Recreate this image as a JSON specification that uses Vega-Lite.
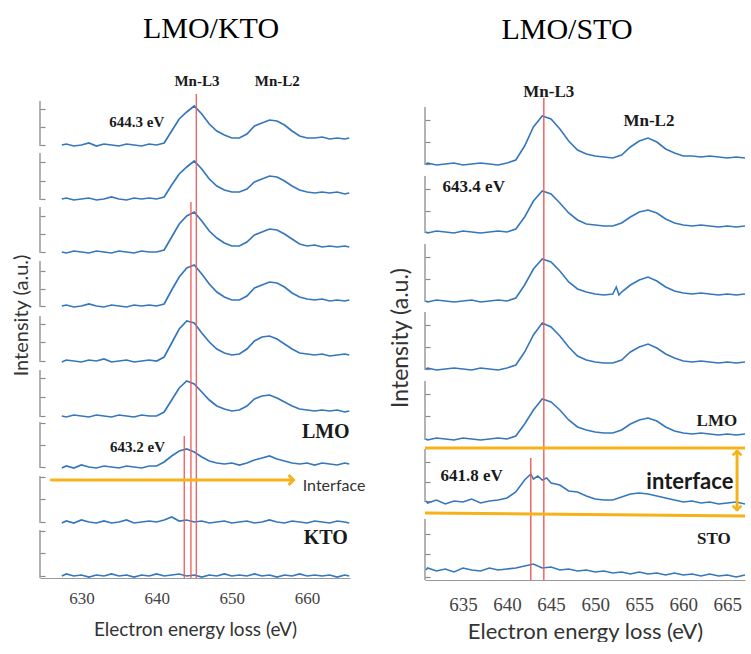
{
"$schema":"https://vega.github.io/schema/vega-lite/v6.json",
"background":"white",
"padding":{"left":11,"top":14,"right":0,"bottom":0},
"autosize":{"type":"pad"},
"spacing":75,
"bounds":"flush",
"config":{"view":{"stroke":null},"axis":{"grid":false}},
"hconcat":[
{
"width":310,"height":483,
"title":{"text":"LMO/KTO","font":"Liberation Serif","fontSize":30,"fontWeight":"normal","color":"#000","anchor":"middle","frame":"group","baseline":"alphabetic","offset":6,"dx":16},
"encoding":{
"x":{"field":"x","type":"quantitative","scale":{"domain":[624.5,665.7],"nice":false,"zero":false},"axis":{"title":"Electron energy loss (eV)","values":[630,640,650,660],"format":"d","ticks":false,"grid":false,"domainColor":"#9a9a9a","domainWidth":1.2,"labelFont":"Liberation Serif","labelFontSize":17,"labelColor":"#444","labelPadding":12,"titleFont":"Lato","titleFontSize":19,"titleFontWeight":"normal","titleColor":"#333","titlePadding":14}},
"y":{"field":"y","type":"quantitative","scale":{"domain":[0,483],"nice":false,"zero":false},"axis":{"title":"Intensity (a.u.)","values":[469,451,433,416,397,379,362,344,326,307,289,272,254,236,217,200,181,162,155,133,111,101,79,56,47,25,2],"labels":false,"domain":false,"tickSize":-5,"tickColor":"#8a8a8a","tickWidth":1.2,"grid":false,"titleFont":"Lato","titleFontSize":20,"titleFontWeight":"normal","titleColor":"#333","titlePadding":8,"titleY":220}}
},
"layer":[
{"data":{"values":[{"x":624.5,"y":477,"y2":432},{"x":624.5,"y":425,"y2":378},{"x":624.5,"y":371,"y2":325},{"x":624.5,"y":317,"y2":271},{"x":624.5,"y":262,"y2":216},{"x":624.5,"y":208,"y2":161},{"x":624.5,"y":156,"y2":110},{"x":624.5,"y":102,"y2":55},{"x":624.5,"y":48,"y2":0}]},
"mark":{"type":"rule","color":"#8a8a8a","strokeWidth":1.3},
"encoding":{"y2":{"field":"y2"}}},
{"data":{"values":[
{"s":"a","x":627.4,"y":433},{"s":"a","x":628,"y":434},{"s":"a","x":629,"y":432},{"s":"a","x":630,"y":433},{"s":"a","x":631,"y":435},{"s":"a","x":632,"y":432},{"s":"a","x":633,"y":434},{"s":"a","x":634,"y":433},{"s":"a","x":635,"y":432},{"s":"a","x":636,"y":434},{"s":"a","x":637,"y":433},{"s":"a","x":638,"y":432},{"s":"a","x":639,"y":434},{"s":"a","x":640,"y":433},{"s":"a","x":641,"y":435},{"s":"a","x":642,"y":447},{"s":"a","x":643,"y":459},{"s":"a","x":644,"y":466},{"s":"a","x":645,"y":472},{"s":"a","x":646,"y":464},{"s":"a","x":647,"y":454},{"s":"a","x":648,"y":447},{"s":"a","x":649,"y":443},{"s":"a","x":650,"y":440},{"s":"a","x":651,"y":440},{"s":"a","x":652,"y":444},{"s":"a","x":653,"y":452},{"s":"a","x":654,"y":455},{"s":"a","x":655,"y":458},{"s":"a","x":656,"y":457},{"s":"a","x":657,"y":453},{"s":"a","x":658,"y":447},{"s":"a","x":659,"y":442},{"s":"a","x":660,"y":440},{"s":"a","x":661,"y":440},{"s":"a","x":662,"y":441},{"s":"a","x":663,"y":439},{"s":"a","x":664,"y":440},{"s":"a","x":665,"y":439},{"s":"a","x":665.6,"y":440},
{"s":"b","x":627.4,"y":379},{"s":"b","x":628,"y":380},{"s":"b","x":629,"y":378},{"s":"b","x":630,"y":379},{"s":"b","x":631,"y":380},{"s":"b","x":632,"y":378},{"s":"b","x":633,"y":379},{"s":"b","x":634,"y":381},{"s":"b","x":635,"y":379},{"s":"b","x":636,"y":378},{"s":"b","x":637,"y":380},{"s":"b","x":638,"y":379},{"s":"b","x":639,"y":380},{"s":"b","x":640,"y":379},{"s":"b","x":641,"y":381},{"s":"b","x":642,"y":393},{"s":"b","x":643,"y":404},{"s":"b","x":644,"y":411},{"s":"b","x":645,"y":417},{"s":"b","x":646,"y":409},{"s":"b","x":647,"y":399},{"s":"b","x":648,"y":392},{"s":"b","x":649,"y":388},{"s":"b","x":650,"y":386},{"s":"b","x":651,"y":386},{"s":"b","x":652,"y":389},{"s":"b","x":653,"y":396},{"s":"b","x":654,"y":399},{"s":"b","x":655,"y":402},{"s":"b","x":656,"y":401},{"s":"b","x":657,"y":397},{"s":"b","x":658,"y":392},{"s":"b","x":659,"y":388},{"s":"b","x":660,"y":386},{"s":"b","x":661,"y":385},{"s":"b","x":662,"y":386},{"s":"b","x":663,"y":385},{"s":"b","x":664,"y":386},{"s":"b","x":665,"y":384},{"s":"b","x":665.6,"y":385},
{"s":"c","x":627.4,"y":326},{"s":"c","x":628,"y":325},{"s":"c","x":629,"y":327},{"s":"c","x":630,"y":326},{"s":"c","x":631,"y":325},{"s":"c","x":632,"y":327},{"s":"c","x":633,"y":326},{"s":"c","x":634,"y":325},{"s":"c","x":635,"y":327},{"s":"c","x":636,"y":326},{"s":"c","x":637,"y":325},{"s":"c","x":638,"y":327},{"s":"c","x":639,"y":326},{"s":"c","x":640,"y":326},{"s":"c","x":641,"y":328},{"s":"c","x":642,"y":341},{"s":"c","x":643,"y":354},{"s":"c","x":644,"y":362},{"s":"c","x":645,"y":366},{"s":"c","x":646,"y":357},{"s":"c","x":647,"y":347},{"s":"c","x":648,"y":340},{"s":"c","x":649,"y":335},{"s":"c","x":650,"y":332},{"s":"c","x":651,"y":332},{"s":"c","x":652,"y":336},{"s":"c","x":653,"y":343},{"s":"c","x":654,"y":346},{"s":"c","x":655,"y":349},{"s":"c","x":656,"y":348},{"s":"c","x":657,"y":344},{"s":"c","x":658,"y":339},{"s":"c","x":659,"y":334},{"s":"c","x":660,"y":332},{"s":"c","x":661,"y":333},{"s":"c","x":662,"y":331},{"s":"c","x":663,"y":332},{"s":"c","x":664,"y":331},{"s":"c","x":665,"y":332},{"s":"c","x":665.6,"y":331},
{"s":"d","x":627.4,"y":272},{"s":"d","x":628,"y":273},{"s":"d","x":629,"y":271},{"s":"d","x":630,"y":272},{"s":"d","x":631,"y":274},{"s":"d","x":632,"y":272},{"s":"d","x":633,"y":271},{"s":"d","x":634,"y":273},{"s":"d","x":635,"y":272},{"s":"d","x":636,"y":271},{"s":"d","x":637,"y":273},{"s":"d","x":638,"y":272},{"s":"d","x":639,"y":273},{"s":"d","x":640,"y":272},{"s":"d","x":641,"y":274},{"s":"d","x":642,"y":288},{"s":"d","x":643,"y":301},{"s":"d","x":644,"y":310},{"s":"d","x":645,"y":313},{"s":"d","x":646,"y":304},{"s":"d","x":647,"y":294},{"s":"d","x":648,"y":286},{"s":"d","x":649,"y":281},{"s":"d","x":650,"y":278},{"s":"d","x":651,"y":278},{"s":"d","x":652,"y":282},{"s":"d","x":653,"y":290},{"s":"d","x":654,"y":293},{"s":"d","x":655,"y":296},{"s":"d","x":656,"y":295},{"s":"d","x":657,"y":291},{"s":"d","x":658,"y":285},{"s":"d","x":659,"y":281},{"s":"d","x":660,"y":279},{"s":"d","x":661,"y":278},{"s":"d","x":662,"y":279},{"s":"d","x":663,"y":277},{"s":"d","x":664,"y":278},{"s":"d","x":665,"y":277},{"s":"d","x":665.6,"y":278},
{"s":"e","x":627.4,"y":216},{"s":"e","x":628,"y":218},{"s":"e","x":629,"y":217},{"s":"e","x":630,"y":216},{"s":"e","x":631,"y":218},{"s":"e","x":632,"y":217},{"s":"e","x":633,"y":219},{"s":"e","x":634,"y":216},{"s":"e","x":635,"y":217},{"s":"e","x":636,"y":218},{"s":"e","x":637,"y":216},{"s":"e","x":638,"y":217},{"s":"e","x":639,"y":218},{"s":"e","x":640,"y":217},{"s":"e","x":641,"y":221},{"s":"e","x":642,"y":235},{"s":"e","x":643,"y":249},{"s":"e","x":644,"y":257},{"s":"e","x":645,"y":255},{"s":"e","x":646,"y":245},{"s":"e","x":647,"y":236},{"s":"e","x":648,"y":229},{"s":"e","x":649,"y":225},{"s":"e","x":650,"y":223},{"s":"e","x":651,"y":224},{"s":"e","x":652,"y":229},{"s":"e","x":653,"y":237},{"s":"e","x":654,"y":241},{"s":"e","x":655,"y":242},{"s":"e","x":656,"y":239},{"s":"e","x":657,"y":234},{"s":"e","x":658,"y":229},{"s":"e","x":659,"y":225},{"s":"e","x":660,"y":224},{"s":"e","x":661,"y":223},{"s":"e","x":662,"y":224},{"s":"e","x":663,"y":222},{"s":"e","x":664,"y":223},{"s":"e","x":665,"y":224},{"s":"e","x":665.6,"y":223},
{"s":"f","x":627.4,"y":162},{"s":"f","x":628,"y":161},{"s":"f","x":629,"y":163},{"s":"f","x":630,"y":162},{"s":"f","x":631,"y":161},{"s":"f","x":632,"y":163},{"s":"f","x":633,"y":162},{"s":"f","x":634,"y":161},{"s":"f","x":635,"y":163},{"s":"f","x":636,"y":162},{"s":"f","x":637,"y":161},{"s":"f","x":638,"y":163},{"s":"f","x":639,"y":162},{"s":"f","x":640,"y":162},{"s":"f","x":641,"y":166},{"s":"f","x":642,"y":178},{"s":"f","x":643,"y":190},{"s":"f","x":644,"y":197},{"s":"f","x":645,"y":194},{"s":"f","x":646,"y":186},{"s":"f","x":647,"y":178},{"s":"f","x":648,"y":172},{"s":"f","x":649,"y":169},{"s":"f","x":650,"y":167},{"s":"f","x":651,"y":168},{"s":"f","x":652,"y":172},{"s":"f","x":653,"y":179},{"s":"f","x":654,"y":182},{"s":"f","x":655,"y":183},{"s":"f","x":656,"y":180},{"s":"f","x":657,"y":176},{"s":"f","x":658,"y":172},{"s":"f","x":659,"y":169},{"s":"f","x":660,"y":168},{"s":"f","x":661,"y":167},{"s":"f","x":662,"y":168},{"s":"f","x":663,"y":167},{"s":"f","x":664,"y":168},{"s":"f","x":665,"y":166},{"s":"f","x":665.6,"y":167},
{"s":"g","x":627.4,"y":110},{"s":"g","x":628,"y":112},{"s":"g","x":629,"y":110},{"s":"g","x":630,"y":113},{"s":"g","x":631,"y":111},{"s":"g","x":632,"y":110},{"s":"g","x":633,"y":112},{"s":"g","x":634,"y":111},{"s":"g","x":635,"y":110},{"s":"g","x":636,"y":112},{"s":"g","x":637,"y":111},{"s":"g","x":638,"y":110},{"s":"g","x":639,"y":112},{"s":"g","x":640,"y":112},{"s":"g","x":641,"y":116},{"s":"g","x":642,"y":122},{"s":"g","x":643,"y":127},{"s":"g","x":644,"y":129},{"s":"g","x":645,"y":126},{"s":"g","x":646,"y":121},{"s":"g","x":647,"y":117},{"s":"g","x":648,"y":115},{"s":"g","x":649,"y":114},{"s":"g","x":650,"y":115},{"s":"g","x":651,"y":113},{"s":"g","x":652,"y":115},{"s":"g","x":653,"y":118},{"s":"g","x":654,"y":120},{"s":"g","x":655,"y":122},{"s":"g","x":656,"y":119},{"s":"g","x":657,"y":117},{"s":"g","x":658,"y":115},{"s":"g","x":659,"y":114},{"s":"g","x":660,"y":115},{"s":"g","x":661,"y":113},{"s":"g","x":662,"y":115},{"s":"g","x":663,"y":114},{"s":"g","x":664,"y":113},{"s":"g","x":665,"y":115},{"s":"g","x":665.6,"y":114},
{"s":"h","x":627.4,"y":55},{"s":"h","x":628,"y":57},{"s":"h","x":629,"y":55},{"s":"h","x":630,"y":58},{"s":"h","x":631,"y":56},{"s":"h","x":632,"y":55},{"s":"h","x":633,"y":57},{"s":"h","x":634,"y":55},{"s":"h","x":635,"y":56},{"s":"h","x":636,"y":58},{"s":"h","x":637,"y":55},{"s":"h","x":638,"y":56},{"s":"h","x":639,"y":57},{"s":"h","x":640,"y":56},{"s":"h","x":641,"y":58},{"s":"h","x":642,"y":61},{"s":"h","x":643,"y":57},{"s":"h","x":644,"y":58},{"s":"h","x":645,"y":56},{"s":"h","x":646,"y":57},{"s":"h","x":647,"y":55},{"s":"h","x":648,"y":56},{"s":"h","x":649,"y":57},{"s":"h","x":650,"y":55},{"s":"h","x":651,"y":56},{"s":"h","x":652,"y":57},{"s":"h","x":653,"y":55},{"s":"h","x":654,"y":56},{"s":"h","x":655,"y":58},{"s":"h","x":656,"y":56},{"s":"h","x":657,"y":55},{"s":"h","x":658,"y":57},{"s":"h","x":659,"y":56},{"s":"h","x":660,"y":55},{"s":"h","x":661,"y":57},{"s":"h","x":662,"y":56},{"s":"h","x":663,"y":55},{"s":"h","x":664,"y":57},{"s":"h","x":665,"y":56},{"s":"h","x":665.6,"y":55},
{"s":"i","x":627.4,"y":2},{"s":"i","x":628,"y":4},{"s":"i","x":629,"y":2},{"s":"i","x":630,"y":3},{"s":"i","x":631,"y":1},{"s":"i","x":632,"y":3},{"s":"i","x":633,"y":2},{"s":"i","x":634,"y":4},{"s":"i","x":635,"y":2},{"s":"i","x":636,"y":3},{"s":"i","x":637,"y":1},{"s":"i","x":638,"y":3},{"s":"i","x":639,"y":2},{"s":"i","x":640,"y":4},{"s":"i","x":641,"y":2},{"s":"i","x":642,"y":3},{"s":"i","x":643,"y":4},{"s":"i","x":644,"y":2},{"s":"i","x":645,"y":3},{"s":"i","x":646,"y":1},{"s":"i","x":647,"y":3},{"s":"i","x":648,"y":2},{"s":"i","x":649,"y":4},{"s":"i","x":650,"y":2},{"s":"i","x":651,"y":3},{"s":"i","x":652,"y":2},{"s":"i","x":653,"y":4},{"s":"i","x":654,"y":2},{"s":"i","x":655,"y":3},{"s":"i","x":656,"y":1},{"s":"i","x":657,"y":3},{"s":"i","x":658,"y":2},{"s":"i","x":659,"y":4},{"s":"i","x":660,"y":2},{"s":"i","x":661,"y":3},{"s":"i","x":662,"y":2},{"s":"i","x":663,"y":3},{"s":"i","x":664,"y":1},{"s":"i","x":665,"y":3},{"s":"i","x":665.6,"y":2}
]},
"mark":{"type":"line","color":"#3577bd","strokeWidth":1.7},
"encoding":{"detail":{"field":"s"}}},
{"data":{"values":[{"x":643.67,"y":142},{"x":644.56,"y":376},{"x":645.27,"y":484}]},
"mark":{"type":"rule","color":"#ef5a5a","strokeWidth":1.3},
"encoding":{"y2":{"datum":0}}},
{"data":{"values":[{"x":625.85,"y":98},{"x":658.0,"y":98}]},
"mark":{"type":"line","color":"#f5b21a","strokeWidth":3},
"encoding":{}},
{"data":{"values":[{"x":658.2,"y":98}]},
"mark":{"type":"point","shape":"M-1,-1L0,0L-1,1","filled":false,"color":"#f5b21a","strokeWidth":3,"size":100,"opacity":1},
"encoding":{}},
{"data":{"values":[{"x":645.36,"y":497,"t":"Mn-L3"},{"x":656.04,"y":497,"t":"Mn-L2"},{"x":637.36,"y":456,"t":"644.3 eV"},{"x":637.46,"y":131,"t":"643.2 eV"}]},
"mark":{"type":"text","font":"Liberation Serif","fontWeight":"bold","fontSize":15,"color":"#1a1a1a","align":"center","baseline":"middle"},
"encoding":{"text":{"field":"t"}}},
{"data":{"values":[{"x":662.48,"y":146,"t":"LMO"},{"x":662.48,"y":40,"t":"KTO"}]},
"mark":{"type":"text","font":"Liberation Serif","fontWeight":"bold","fontSize":20,"color":"#1a1a1a","align":"center","baseline":"middle"},
"encoding":{"text":{"field":"t"}}},
{"data":{"values":[{"x":659.42,"y":92,"t":"Interface"}]},
"mark":{"type":"text","font":"Lato","fontSize":16,"color":"#333","align":"left","baseline":"middle"},
"encoding":{"text":{"field":"t"}}}
]
},
{
"width":320,"height":485,
"title":{"text":"LMO/STO","font":"Liberation Serif","fontSize":30,"fontWeight":"normal","color":"#000","anchor":"middle","frame":"group","baseline":"alphabetic","offset":14,"dx":-18},
"encoding":{
"x":{"field":"x","type":"quantitative","scale":{"domain":[630.7,667.0],"nice":false,"zero":false},"axis":{"title":"Electron energy loss (eV)","values":[635,640,645,650,655,660,665],"format":"d","ticks":false,"grid":false,"domainColor":"#9a9a9a","domainWidth":1.2,"labelFont":"Liberation Serif","labelFontSize":19,"labelColor":"#444","labelPadding":15,"titleFont":"Lato","titleFontSize":22,"titleFontWeight":"normal","titleColor":"#333","titlePadding":7}},
"y":{"field":"y","type":"quantitative","scale":{"domain":[0,485],"nice":false,"zero":false},"axis":{"title":"Intensity (a.u.)","values":[460,438,416,391,369,348,323,301,279,255,233,211,186,164,141,118,98,79,46,26,3],"labels":false,"domain":false,"tickSize":-5,"tickColor":"#8a8a8a","tickWidth":1.2,"grid":false,"titleFont":"Lato","titleFontSize":23,"titleFontWeight":"normal","titleColor":"#333","titlePadding":12}}
},
"layer":[
{"data":{"values":[{"x":630.7,"y":473,"y2":415},{"x":630.7,"y":404,"y2":347},{"x":630.7,"y":336,"y2":278},{"x":630.7,"y":268,"y2":210},{"x":630.7,"y":199,"y2":140},{"x":630.7,"y":131,"y2":78},{"x":630.7,"y":61,"y2":0}]},
"mark":{"type":"rule","color":"#8a8a8a","strokeWidth":1.3},
"encoding":{"y2":{"field":"y2"}}},
{"data":{"values":[
{"s":"p","x":630.8,"y":416},{"s":"p","x":631,"y":417},{"s":"p","x":632,"y":415},{"s":"p","x":633,"y":416},{"s":"p","x":634,"y":417},{"s":"p","x":635,"y":415},{"s":"p","x":636,"y":416},{"s":"p","x":637,"y":417},{"s":"p","x":638,"y":416},{"s":"p","x":639,"y":415},{"s":"p","x":640,"y":417},{"s":"p","x":641,"y":420},{"s":"p","x":642,"y":434},{"s":"p","x":643,"y":453},{"s":"p","x":644,"y":464},{"s":"p","x":645,"y":461},{"s":"p","x":646,"y":451},{"s":"p","x":647,"y":439},{"s":"p","x":648,"y":430},{"s":"p","x":649,"y":426},{"s":"p","x":650,"y":424},{"s":"p","x":651,"y":423},{"s":"p","x":652,"y":422},{"s":"p","x":653,"y":425},{"s":"p","x":654,"y":433},{"s":"p","x":655,"y":439},{"s":"p","x":656,"y":442},{"s":"p","x":657,"y":438},{"s":"p","x":658,"y":431},{"s":"p","x":659,"y":427},{"s":"p","x":660,"y":424},{"s":"p","x":661,"y":424},{"s":"p","x":662,"y":423},{"s":"p","x":663,"y":424},{"s":"p","x":664,"y":423},{"s":"p","x":665,"y":422},{"s":"p","x":666,"y":423},{"s":"p","x":667,"y":422},
{"s":"q","x":630.8,"y":348},{"s":"q","x":631,"y":347},{"s":"q","x":632,"y":349},{"s":"q","x":633,"y":348},{"s":"q","x":634,"y":347},{"s":"q","x":635,"y":349},{"s":"q","x":636,"y":348},{"s":"q","x":637,"y":347},{"s":"q","x":638,"y":348},{"s":"q","x":639,"y":349},{"s":"q","x":640,"y":348},{"s":"q","x":641,"y":351},{"s":"q","x":642,"y":363},{"s":"q","x":643,"y":379},{"s":"q","x":644,"y":389},{"s":"q","x":645,"y":386},{"s":"q","x":646,"y":377},{"s":"q","x":647,"y":367},{"s":"q","x":648,"y":360},{"s":"q","x":649,"y":356},{"s":"q","x":650,"y":355},{"s":"q","x":651,"y":354},{"s":"q","x":652,"y":354},{"s":"q","x":653,"y":357},{"s":"q","x":654,"y":363},{"s":"q","x":655,"y":368},{"s":"q","x":656,"y":370},{"s":"q","x":657,"y":367},{"s":"q","x":658,"y":361},{"s":"q","x":659,"y":357},{"s":"q","x":660,"y":355},{"s":"q","x":661,"y":354},{"s":"q","x":662,"y":355},{"s":"q","x":663,"y":354},{"s":"q","x":664,"y":353},{"s":"q","x":665,"y":354},{"s":"q","x":666,"y":353},{"s":"q","x":667,"y":354},
{"s":"r","x":630.8,"y":279},{"s":"r","x":631,"y":278},{"s":"r","x":632,"y":280},{"s":"r","x":633,"y":279},{"s":"r","x":634,"y":278},{"s":"r","x":635,"y":279},{"s":"r","x":636,"y":280},{"s":"r","x":637,"y":278},{"s":"r","x":638,"y":279},{"s":"r","x":639,"y":280},{"s":"r","x":640,"y":279},{"s":"r","x":641,"y":282},{"s":"r","x":642,"y":295},{"s":"r","x":643,"y":311},{"s":"r","x":644,"y":321},{"s":"r","x":645,"y":318},{"s":"r","x":646,"y":309},{"s":"r","x":647,"y":298},{"s":"r","x":648,"y":291},{"s":"r","x":649,"y":288},{"s":"r","x":650,"y":286},{"s":"r","x":651,"y":285},{"s":"r","x":652,"y":286},{"s":"r","x":652.4,"y":293},{"s":"r","x":652.7,"y":285},{"s":"r","x":653,"y":288},{"s":"r","x":654,"y":295},{"s":"r","x":655,"y":300},{"s":"r","x":656,"y":303},{"s":"r","x":657,"y":299},{"s":"r","x":658,"y":293},{"s":"r","x":659,"y":289},{"s":"r","x":660,"y":287},{"s":"r","x":661,"y":286},{"s":"r","x":662,"y":287},{"s":"r","x":663,"y":286},{"s":"r","x":664,"y":285},{"s":"r","x":665,"y":286},{"s":"r","x":666,"y":285},{"s":"r","x":667,"y":286},
{"s":"t","x":630.8,"y":211},{"s":"t","x":631,"y":212},{"s":"t","x":632,"y":210},{"s":"t","x":633,"y":211},{"s":"t","x":634,"y":212},{"s":"t","x":635,"y":211},{"s":"t","x":636,"y":210},{"s":"t","x":637,"y":212},{"s":"t","x":638,"y":211},{"s":"t","x":639,"y":210},{"s":"t","x":640,"y":212},{"s":"t","x":641,"y":215},{"s":"t","x":642,"y":228},{"s":"t","x":643,"y":245},{"s":"t","x":644,"y":257},{"s":"t","x":645,"y":253},{"s":"t","x":646,"y":244},{"s":"t","x":647,"y":233},{"s":"t","x":648,"y":224},{"s":"t","x":649,"y":220},{"s":"t","x":650,"y":218},{"s":"t","x":651,"y":217},{"s":"t","x":652,"y":217},{"s":"t","x":653,"y":220},{"s":"t","x":654,"y":228},{"s":"t","x":655,"y":233},{"s":"t","x":656,"y":236},{"s":"t","x":657,"y":232},{"s":"t","x":658,"y":226},{"s":"t","x":659,"y":222},{"s":"t","x":660,"y":219},{"s":"t","x":661,"y":218},{"s":"t","x":662,"y":219},{"s":"t","x":663,"y":218},{"s":"t","x":664,"y":217},{"s":"t","x":665,"y":218},{"s":"t","x":666,"y":217},{"s":"t","x":667,"y":218},
{"s":"u","x":630.8,"y":141},{"s":"u","x":631,"y":140},{"s":"u","x":632,"y":142},{"s":"u","x":633,"y":141},{"s":"u","x":634,"y":140},{"s":"u","x":635,"y":142},{"s":"u","x":636,"y":141},{"s":"u","x":637,"y":140},{"s":"u","x":638,"y":141},{"s":"u","x":639,"y":142},{"s":"u","x":640,"y":141},{"s":"u","x":641,"y":144},{"s":"u","x":642,"y":156},{"s":"u","x":643,"y":170},{"s":"u","x":644,"y":181},{"s":"u","x":645,"y":178},{"s":"u","x":646,"y":170},{"s":"u","x":647,"y":160},{"s":"u","x":648,"y":153},{"s":"u","x":649,"y":150},{"s":"u","x":650,"y":148},{"s":"u","x":651,"y":147},{"s":"u","x":652,"y":147},{"s":"u","x":653,"y":150},{"s":"u","x":654,"y":156},{"s":"u","x":655,"y":160},{"s":"u","x":656,"y":162},{"s":"u","x":657,"y":159},{"s":"u","x":658,"y":153},{"s":"u","x":659,"y":149},{"s":"u","x":660,"y":147},{"s":"u","x":661,"y":146},{"s":"u","x":662,"y":147},{"s":"u","x":663,"y":146},{"s":"u","x":664,"y":145},{"s":"u","x":665,"y":146},{"s":"u","x":666,"y":145},{"s":"u","x":667,"y":146},
{"s":"v","x":630.8,"y":79},{"s":"v","x":631,"y":77},{"s":"v","x":632,"y":80},{"s":"v","x":633,"y":76},{"s":"v","x":634,"y":79},{"s":"v","x":635,"y":78},{"s":"v","x":636,"y":81},{"s":"v","x":637,"y":77},{"s":"v","x":638,"y":79},{"s":"v","x":639,"y":80},{"s":"v","x":640,"y":82},{"s":"v","x":641,"y":88},{"s":"v","x":642,"y":100},{"s":"v","x":642.7,"y":106},{"s":"v","x":643,"y":101},{"s":"v","x":643.5,"y":104},{"s":"v","x":644,"y":100},{"s":"v","x":644.5,"y":102},{"s":"v","x":645,"y":97},{"s":"v","x":646,"y":95},{"s":"v","x":647,"y":89},{"s":"v","x":648,"y":88},{"s":"v","x":649,"y":84},{"s":"v","x":650,"y":81},{"s":"v","x":651,"y":80},{"s":"v","x":652,"y":80},{"s":"v","x":653,"y":83},{"s":"v","x":654,"y":86},{"s":"v","x":655,"y":87},{"s":"v","x":656,"y":86},{"s":"v","x":657,"y":84},{"s":"v","x":658,"y":82},{"s":"v","x":659,"y":80},{"s":"v","x":660,"y":78},{"s":"v","x":661,"y":79},{"s":"v","x":662,"y":77},{"s":"v","x":663,"y":78},{"s":"v","x":664,"y":76},{"s":"v","x":665,"y":77},{"s":"v","x":666,"y":78},{"s":"v","x":667,"y":76},
{"s":"w","x":630.8,"y":10},{"s":"w","x":631,"y":12},{"s":"w","x":632,"y":9},{"s":"w","x":633,"y":11},{"s":"w","x":634,"y":8},{"s":"w","x":635,"y":12},{"s":"w","x":636,"y":10},{"s":"w","x":637,"y":9},{"s":"w","x":638,"y":12},{"s":"w","x":639,"y":10},{"s":"w","x":640,"y":11},{"s":"w","x":641,"y":12},{"s":"w","x":642,"y":14},{"s":"w","x":643,"y":16},{"s":"w","x":644,"y":12},{"s":"w","x":645,"y":13},{"s":"w","x":646,"y":10},{"s":"w","x":647,"y":11},{"s":"w","x":648,"y":9},{"s":"w","x":649,"y":10},{"s":"w","x":650,"y":8},{"s":"w","x":651,"y":9},{"s":"w","x":652,"y":7},{"s":"w","x":653,"y":8},{"s":"w","x":654,"y":6},{"s":"w","x":655,"y":8},{"s":"w","x":656,"y":6},{"s":"w","x":657,"y":7},{"s":"w","x":658,"y":5},{"s":"w","x":659,"y":7},{"s":"w","x":660,"y":5},{"s":"w","x":661,"y":6},{"s":"w","x":662,"y":4},{"s":"w","x":663,"y":6},{"s":"w","x":664,"y":4},{"s":"w","x":665,"y":5},{"s":"w","x":666,"y":3},{"s":"w","x":667,"y":5}
]},
"mark":{"type":"line","color":"#3577bd","strokeWidth":1.6},
"encoding":{"detail":{"field":"s"}}},
{"data":{"values":[{"x":644.18,"y":482},{"x":642.7,"y":122}]},
"mark":{"type":"rule","color":"#ef5a5a","strokeWidth":1.4},
"encoding":{"y2":{"datum":0}}},
{"data":{"values":[{"g":"top","x":630.7,"y":132},{"g":"top","x":667.0,"y":132},{"g":"bot","x":630.7,"y":67},{"g":"bot","x":667.0,"y":64},{"g":"arr","x":666.1,"y":130},{"g":"arr","x":666.1,"y":69}]},
"mark":{"type":"line","color":"#f5b21a","strokeWidth":3},
"encoding":{"detail":{"field":"g"}}},
{"data":{"values":[{"x":666.1,"y":129}]},
"mark":{"type":"point","shape":"M-1,1L0,0L1,1","filled":false,"color":"#f5b21a","strokeWidth":2.5,"size":80,"opacity":1},
"encoding":{}},
{"data":{"values":[{"x":666.1,"y":70}]},
"mark":{"type":"point","shape":"M-1,-1L0,0L1,-1","filled":false,"color":"#f5b21a","strokeWidth":2.5,"size":80,"opacity":1},
"encoding":{}},
{"data":{"values":[{"x":644.74,"y":488,"t":"Mn-L3"},{"x":656.1,"y":459,"t":"Mn-L2"},{"x":636.23,"y":393,"t":"643.4 eV"},{"x":636.0,"y":104,"t":"641.8 eV"},{"x":663.81,"y":159,"t":"LMO"},{"x":663.47,"y":41,"t":"STO"}]},
"mark":{"type":"text","font":"Liberation Serif","fontWeight":"bold","fontSize":17,"color":"#1a1a1a","align":"center","baseline":"middle"},
"encoding":{"text":{"field":"t"}}},
{"data":{"values":[{"x":660.75,"y":98,"t":"interface"}]},
"mark":{"type":"text","font":"Lato","fontWeight":"bold","fontSize":22,"color":"#1a1a1a","align":"center","baseline":"middle"},
"encoding":{"text":{"field":"t"}}}
]
}
]
}
